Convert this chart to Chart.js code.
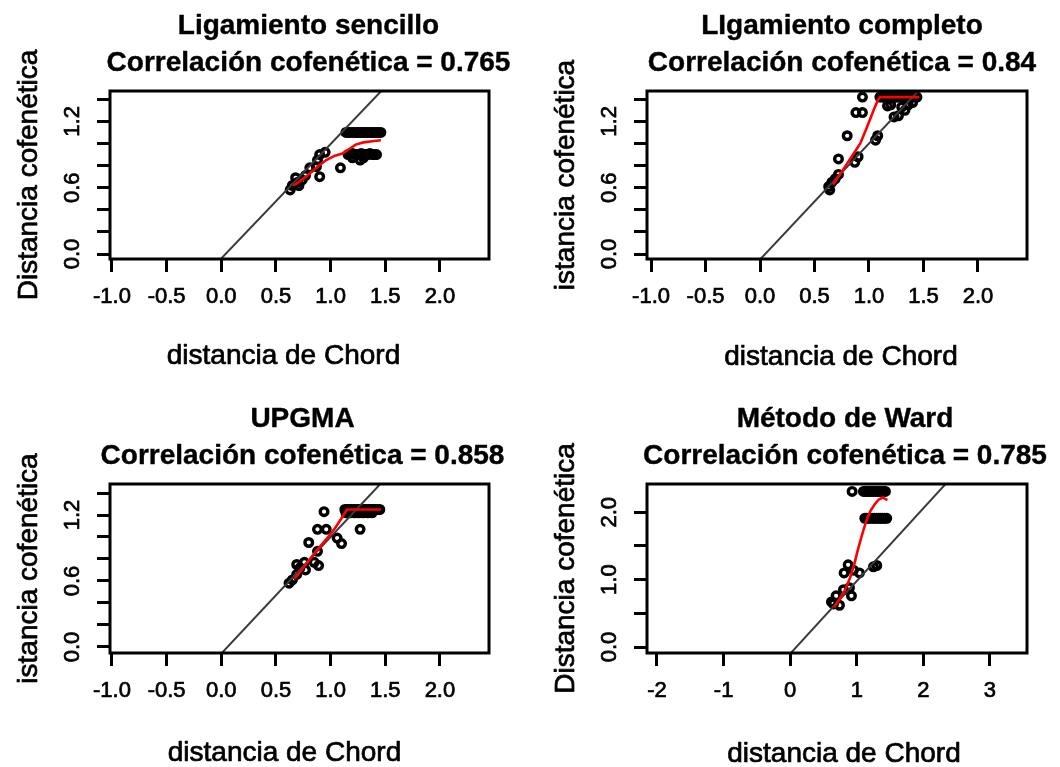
<!DOCTYPE html>
<html lang="es">
<head>
<meta charset="UTF-8">
<title>Correlación cofenética</title>
<script src="https://cdn.jsdelivr.net/npm/chart.js"></script>
<style>
    body { margin: 0; background: #fff; }
    canvas { position: absolute; }
</style>
</head>
<body>
<canvas id="sencillo" width="530" height="390" style="left:0;top:0"></canvas>
<canvas id="completo" width="530" height="390" style="left:530px;top:0"></canvas>
<canvas id="upgma" width="530" height="377" style="left:0;top:390px"></canvas>
<canvas id="ward" width="530" height="377" style="left:530px;top:390px"></canvas>
<script>
const metodos = ['Ligamiento sencillo', 'LIgamiento completo', 'UPGMA', 'Método de Ward'];
const correlaciones = [0.765, 0.84, 0.858, 0.785];

// straight reference line of each panel (slope, intercept)
const pendientes = [1.035, 1.05, 1.06, 1.08];
const interceptos = [-0.04, -0.05, -0.06, -0.10];

// pairs of sites: [distancia de Chord, distancia cofenética]
const sencilloPuntos = [
    [0.63, 0.58], [0.65, 0.62], [0.68, 0.69], [0.70, 0.65], [0.71, 0.62], [0.74, 0.67], [0.77, 0.71],
    [0.81, 0.78], [0.87, 0.79], [0.88, 0.85], [0.90, 0.90], [0.95, 0.92], [0.90, 0.70], [1.09, 0.78],
    [1.27, 0.85], [1.20, 0.87], [1.30, 0.87],
    [1.16, 0.90], [1.18, 0.90], [1.20, 0.91], [1.22, 0.90], [1.24, 0.90], [1.26, 0.90], [1.28, 0.91],
    [1.30, 0.90], [1.32, 0.90], [1.34, 0.90], [1.36, 0.91], [1.38, 0.90], [1.40, 0.90], [1.42, 0.90],
    [1.14, 1.10], [1.16, 1.10], [1.18, 1.10], [1.20, 1.10], [1.22, 1.10], [1.24, 1.10], [1.26, 1.10],
    [1.28, 1.10], [1.30, 1.10], [1.32, 1.10], [1.34, 1.10], [1.36, 1.10], [1.38, 1.10], [1.40, 1.10],
    [1.42, 1.10], [1.44, 1.10], [1.46, 1.10]
];
const sencilloLowessX = [0.66, 0.72, 0.80, 0.88, 0.96, 1.04, 1.11, 1.17, 1.23, 1.30, 1.38, 1.46];
const sencilloLowessY = [0.62, 0.66, 0.72, 0.79, 0.85, 0.89, 0.91, 0.95, 0.99, 1.01, 1.02, 1.03];

const completoPuntos = [
    [0.63, 0.61], [0.64, 0.58], [0.66, 0.65], [0.69, 0.68], [0.72, 0.72], [0.72, 0.86], [0.90, 0.88],
    [0.87, 0.83], [0.80, 1.07], [1.08, 1.07], [1.06, 1.03], [0.88, 1.28], [0.94, 1.28], [0.94, 1.42],
    [1.17, 1.34], [1.20, 1.35], [1.30, 1.33], [1.36, 1.35], [1.40, 1.37], [1.33, 1.30], [1.23, 1.24],
    [1.27, 1.25],
    [1.10, 1.42], [1.12, 1.42], [1.14, 1.42], [1.16, 1.42], [1.18, 1.42], [1.20, 1.42], [1.22, 1.42],
    [1.24, 1.42], [1.26, 1.42], [1.28, 1.42], [1.30, 1.42], [1.32, 1.42], [1.34, 1.42], [1.36, 1.42],
    [1.38, 1.42], [1.40, 1.42], [1.42, 1.42], [1.44, 1.42]
];
const completoLowessX = [0.67, 0.74, 0.80, 0.86, 0.92, 0.97, 1.01, 1.05, 1.08, 1.10, 1.46];
const completoLowessY = [0.63, 0.73, 0.82, 0.91, 1.00, 1.12, 1.22, 1.32, 1.39, 1.42, 1.42];

const upgmaPuntos = [
    [0.62, 0.58], [0.65, 0.61], [0.69, 0.66], [0.72, 0.72], [0.69, 0.75], [0.76, 0.77], [0.85, 0.77],
    [0.89, 0.74], [0.77, 0.70], [0.88, 0.87], [0.80, 0.95], [1.06, 0.99], [1.10, 0.94], [0.88, 1.07],
    [0.96, 1.07], [1.27, 1.07], [0.94, 1.23],
    [1.14, 1.22], [1.18, 1.22], [1.22, 1.22], [1.26, 1.22], [1.30, 1.22], [1.34, 1.22], [1.38, 1.22],
    [1.13, 1.25], [1.15, 1.25], [1.17, 1.25], [1.19, 1.25], [1.21, 1.25], [1.23, 1.25], [1.25, 1.25],
    [1.27, 1.25], [1.29, 1.25], [1.31, 1.25], [1.33, 1.25], [1.35, 1.25], [1.37, 1.25], [1.39, 1.25],
    [1.41, 1.25], [1.43, 1.25], [1.45, 1.25]
];
const upgmaLowessX = [0.67, 0.75, 0.82, 0.90, 0.97, 1.04, 1.10, 1.15, 1.46];
const upgmaLowessY = [0.62, 0.72, 0.81, 0.91, 0.99, 1.08, 1.17, 1.25, 1.25];

const wardPuntos = [
    [0.62, 0.67], [0.65, 0.64], [0.69, 0.76], [0.74, 0.62], [0.80, 0.85], [0.89, 0.88], [0.92, 0.76],
    [0.81, 1.10], [0.87, 1.22], [0.95, 1.14], [1.04, 1.10], [1.25, 1.19], [1.30, 1.21],
    [1.12, 1.91], [1.15, 1.91], [1.18, 1.91], [1.21, 1.91], [1.24, 1.91], [1.27, 1.91], [1.30, 1.91],
    [1.33, 1.91], [1.36, 1.91], [1.39, 1.91], [1.42, 1.91], [1.45, 1.91],
    [0.93, 2.31], [1.10, 2.31], [1.13, 2.31], [1.16, 2.31], [1.19, 2.31], [1.22, 2.31], [1.25, 2.31],
    [1.28, 2.31], [1.31, 2.31], [1.34, 2.31], [1.37, 2.31], [1.40, 2.31], [1.43, 2.31]
];
const wardLowessX = [0.66, 0.74, 0.82, 0.90, 0.96, 1.01, 1.06, 1.11, 1.16, 1.21, 1.27, 1.33, 1.39, 1.46];
const wardLowessY = [0.59, 0.71, 0.84, 1.03, 1.22, 1.42, 1.60, 1.77, 1.92, 2.03, 2.12, 2.19, 2.22, 2.18];

// axis ticks; R leaves some labels out where they would overlap
const ticksChord = [-1.0, -0.5, 0.0, 0.5, 1.0, 1.5, 2.0];
const etiquetasChord = ['-1.0', '-0.5', '0.0', '0.5', '1.0', '1.5', '2.0'];
const ticksCofen = [0, 0.2, 0.4, 0.6, 0.8, 1.0, 1.2, 1.4];
const etiquetasCofen = ['0.0', '', '', '0.6', '', '', '1.2', ''];
const ticksChordWard = [-2, -1, 0, 1, 2, 3];
const etiquetasChordWard = ['-2', '-1', '0', '1', '2', '3'];
const ticksCofenWard = [0, 0.5, 1.0, 1.5, 2.0];
const etiquetasCofenWard = ['0.0', '', '1.0', '', '2.0'];

const fuente = '"Liberation Sans", Arial, sans-serif';

// draws text filled and lightly stroked, so it is a bit heavier
function texto(ctx, cadena, x, y, grosor) {
    ctx.lineWidth = grosor;
    ctx.strokeText(cadena, x, y);
    ctx.fillText(cadena, x, y);
}

// box around the plot region plus titles and axis labels, placed like base R graphics
const textosPanel = {
    id: 'textosPanel',
    afterDraw(chart, args, opts) {
        const ctx = chart.ctx;
        const a = chart.chartArea;
        const cx = (a.left + a.right) / 2;
        let cy = (a.top + a.bottom) / 2;
        ctx.save();
        ctx.strokeStyle = '#000';
        ctx.lineWidth = 3;
        ctx.strokeRect(a.left, a.top, a.right - a.left, a.bottom - a.top);

        ctx.fillStyle = '#000';
        ctx.lineJoin = 'round';
        ctx.textAlign = 'center';
        ctx.textBaseline = 'alphabetic';
        ctx.font = 'bold 28px ' + fuente;
        texto(ctx, opts.titulo[0], cx + opts.despTitulo, a.top - 57, 0.4);
        texto(ctx, opts.titulo[1], cx + opts.despTitulo, a.top - 20, 0.4);

        ctx.font = '28px ' + fuente;
        texto(ctx, opts.xlab, cx + opts.despX, a.bottom + opts.sepX, 0.7);

        // in some panels the first letter of the y label is cut off by the figure margin
        if (opts.cortarInicial) {
            const anchoInicial = ctx.measureText(opts.ylab[0]).width;
            cy += anchoInicial / 2;
            const limite = cy + ctx.measureText(opts.ylab).width / 2 - anchoInicial;
            ctx.beginPath();
            ctx.rect(0, 0, a.left, limite);
            ctx.clip();
        }
        ctx.translate(a.left - 73, cy);
        ctx.rotate(-Math.PI / 2);
        texto(ctx, opts.ylab, 0, 0, 0.7);
        ctx.restore();
    }
};

function dibujarPanel(id, indice, puntos, lowX, lowY, ejes, marco) {
    const escalaX = {
        type: 'linear',
        min: ejes.xMin,
        max: ejes.xMax,
        afterBuildTicks: s => { s.ticks = ejes.xTicks.map(v => ({ value: v })); },
        afterFit: s => { s.height = 50; },
        ticks: {
            autoSkip: false,
            maxRotation: 0,
            padding: 12,
            color: '#000',
            textStrokeColor: '#000',
            textStrokeWidth: 0.7,
            font: { family: fuente, size: 22 },
            callback: (v, i) => ejes.xEtiquetas[i]
        },
        grid: { display: true, drawOnChartArea: false, drawTicks: true, tickLength: 13, tickWidth: 3, tickColor: '#000' },
        border: { display: false }
    };
    const escalaY = {
        type: 'linear',
        min: ejes.yMin,
        max: ejes.yMax,
        afterBuildTicks: s => { s.ticks = ejes.yTicks.map(v => ({ value: v })); },
        afterFit: s => { s.width = 60; },
        ticks: {
            autoSkip: false,
            minRotation: 90,
            maxRotation: 90,
            crossAlign: 'center',
            padding: 9,
            color: '#000',
            textStrokeColor: '#000',
            textStrokeWidth: 0.7,
            font: { family: fuente, size: 22 },
            callback: (v, i) => ejes.yEtiquetas[i]
        },
        grid: { display: true, drawOnChartArea: false, drawTicks: true, tickLength: 13, tickWidth: 3, tickColor: '#000' },
        border: { display: false }
    };

    new Chart(document.getElementById(id), {
        type: 'scatter',
        data: {
            datasets: [
                {
                    // lowess smoother
                    data: lowX.map((x, i) => ({ x: x, y: lowY[i] })),
                    showLine: true,
                    borderColor: '#ff0000',
                    borderWidth: 2.6,
                    pointRadius: 0,
                    tension: 0,
                    order: 0,
                    clip: 0
                },
                {
                    // reference line across the whole x range
                    data: [ejes.xMin, ejes.xMax].map(v => ({ x: v, y: interceptos[indice] + pendientes[indice] * v })),
                    showLine: true,
                    borderColor: '#3a3a3a',
                    borderWidth: 2,
                    pointRadius: 0,
                    order: 1,
                    clip: 0
                },
                {
                    data: puntos.map(p => ({ x: p[0], y: p[1] })),
                    pointRadius: 3.8,
                    pointBorderWidth: 3.4,
                    pointBorderColor: '#000',
                    pointBackgroundColor: 'rgba(0,0,0,0)',
                    order: 2
                }
            ]
        },
        options: {
            responsive: false,
            animation: false,
            events: [],
            layout: { autoPadding: false, padding: marco.padding },
            plugins: {
                legend: { display: false },
                tooltip: { enabled: false },
                textosPanel: {
                    titulo: [metodos[indice], 'Correlación cofenética = ' + correlaciones[indice]],
                    despTitulo: marco.despTitulo,
                    xlab: 'distancia de Chord',
                    despX: marco.despX,
                    sepX: marco.sepX,
                    ylab: 'Distancia cofenética',
                    cortarInicial: marco.cortarInicial
                }
            },
            scales: { x: escalaX, y: escalaY }
        },
        plugins: [textosPanel]
    });
}

const ejesChord = { xMin: -1.018, xMax: 2.449, xTicks: ticksChord, xEtiquetas: etiquetasChord,
                    yTicks: ticksCofen, yEtiquetas: etiquetasCofen };

dibujarPanel('sencillo', 0, sencilloPuntos, sencilloLowessX, sencilloLowessY,
    Object.assign({}, ejesChord, { yMin: -0.045, yMax: 1.475 }),
    { padding: { left: 50, right: 41, top: 91, bottom: 81 }, despTitulo: 9, despX: -16, sepX: 105, cortarInicial: false });

dibujarPanel('completo', 1, completoPuntos, completoLowessX, completoLowessY,
    Object.assign({}, ejesChord, { xMin: -1.037, xMax: 2.45, yMin: -0.045, yMax: 1.475 }),
    { padding: { left: 57, right: 33, top: 91, bottom: 81 }, despTitulo: 5, despX: 4, sepX: 106, cortarInicial: true });

dibujarPanel('upgma', 2, upgmaPuntos, upgmaLowessX, upgmaLowessY,
    Object.assign({}, ejesChord, { yMin: -0.055, yMax: 1.482 }),
    { padding: { left: 50, right: 41, top: 94, bottom: 64 }, despTitulo: 3, despX: -15, sepX: 108, cortarInicial: true });

dibujarPanel('ward', 3, wardPuntos, wardLowessX, wardLowessY,
    { xMin: -2.15, xMax: 3.556, xTicks: ticksChordWard, xEtiquetas: etiquetasChordWard,
      yMin: -0.089, yMax: 2.42, yTicks: ticksCofenWard, yEtiquetas: etiquetasCofenWard },
    { padding: { left: 57, right: 33, top: 94, bottom: 64 }, despTitulo: 8, despX: 7, sepX: 109, cortarInicial: false });
</script>
</body>
</html>
